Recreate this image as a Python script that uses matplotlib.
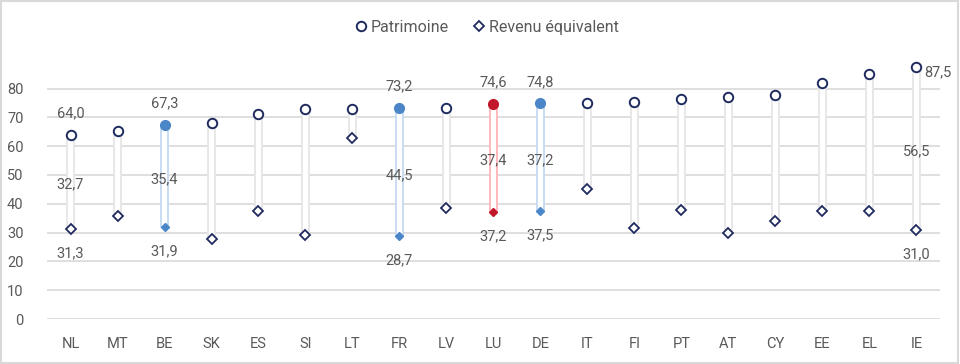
import matplotlib
matplotlib.use("Agg")
import matplotlib.pyplot as plt
from matplotlib.lines import Line2D
from matplotlib.patches import Rectangle
import numpy as np

plt.rcParams['font.family'] = ['Roboto', 'DejaVu Sans']

countries = ["NL", "MT", "BE", "SK", "ES", "SI", "LT", "FR", "LV", "LU",
             "DE", "IT", "FI", "PT", "AT", "CY", "EE", "EL", "IE"]
patrimoine = [64.0, 65.1, 67.3, 67.9, 71.0, 72.8, 72.8, 73.2, 73.2, 74.6,
              74.8, 75.0, 75.2, 76.3, 77.1, 77.7, 82.0, 85.1, 87.5]
revenu = [31.3, 35.6, 31.9, 27.9, 37.5, 29.1, 62.8, 28.7, 38.7, 37.2,
          37.5, 45.1, 31.7, 37.8, 29.8, 34.1, 37.5, 37.5, 31.0]
# labelled countries and their displayed gap values
labelled = ["NL", "BE", "FR", "LU", "DE", "IE"]
gap_labels = [32.7, 35.4, 44.5, 37.4, 37.2, 56.5]
highlight_blue = ["BE", "FR", "DE"]
highlight_red = ["LU"]

navy = "#1f2a5e"
blue = "#4a86c8"
blue_edge = "#c5d9f1"
red = "#c0182a"
red_edge = "#ffb3b8"
grey_edge = "#e6e6e6"
txt = "#595959"

fig = plt.figure(figsize=(9.6, 3.64), dpi=100)
ax = fig.add_axes([0.049, 0.1236, 0.930, 0.752])
x = np.arange(len(countries))

ax.set_xlim(-0.5, len(countries) - 0.5)
ax.set_ylim(0, 95)
ax.set_yticks(range(0, 81, 10))
ax.set_xticks(x)
ax.set_xticklabels(countries)
ax.yaxis.grid(True, color="#d9d9d9", linewidth=1.2, zorder=0)
ax.set_axisbelow(True)
for s in ax.spines.values():
    s.set_visible(False)
ax.tick_params(axis="both", length=0, labelsize=10.5, colors=txt)
ax.tick_params(axis="y", pad=17)
ax.tick_params(axis="x", pad=13)

fmt = lambda v: f"{v:.1f}".replace(".", ",")

for i, c in enumerate(countries):
    p, r = patrimoine[i], revenu[i]
    if c in highlight_blue:
        ec, mc, filled = blue_edge, blue, True
    elif c in highlight_red:
        ec, mc, filled = red_edge, red, True
    else:
        ec, mc, filled = grey_edge, navy, False
    ax.bar(i, p - r, bottom=r, width=0.14, facecolor="white",
           edgecolor=ec, linewidth=1.3, zorder=2)
    if filled:
        ax.plot(i, p, "o", ms=7, color=mc, mec=mc, zorder=4)
        ax.plot(i, r, "D", ms=4.5, color=mc, mec=mc, zorder=4)
    else:
        ax.plot(i, p, "o", ms=6.8, mfc="white", mec=navy, mew=1.4, zorder=4)
        ax.plot(i, r, "D", ms=5.5, mfc="white", mec=navy, mew=1.3, zorder=4)
    if c in labelled:
        g = gap_labels[labelled.index(c)]
        if c == "IE":
            ax.annotate(fmt(p), (i, p), xytext=(6, -4), textcoords="offset points",
                        ha="left", va="center", fontsize=10.5, color=txt)
        else:
            ax.annotate(fmt(p), (i, p), xytext=(0, 15.5), textcoords="offset points",
                        ha="center", va="center", fontsize=10.5, color=txt)
        ax.annotate(fmt(g), (i, (p + r) / 2), xytext=(0, -2),
                    textcoords="offset points", ha="center", va="center",
                    fontsize=10.5, color=txt)
        ax.annotate(fmt(r), (i, r), xytext=(0, -17.5), textcoords="offset points",
                    ha="center", va="center", fontsize=10.5, color=txt)

handles = [
    Line2D([], [], marker="o", ls="none", ms=6.8, mfc="white", mec=navy, mew=1.4),
    Line2D([], [], marker="D", ls="none", ms=5.5, mfc="white", mec=navy, mew=1.3),
]
fig.legend(handles, ["Patrimoine", "Revenu équivalent"], loc="center",
           bbox_to_anchor=(0.506, 0.925), ncol=2, frameon=False, fontsize=11.5,
           labelcolor=txt, handletextpad=0.1, columnspacing=1.4, handlelength=1.0)

fig.patches.append(Rectangle((0.001, 0.002), 0.997, 0.995, transform=fig.transFigure,
                             fill=False, edgecolor="#d9d9d9", linewidth=1.5))

fig.savefig("out.png", dpi=100)
